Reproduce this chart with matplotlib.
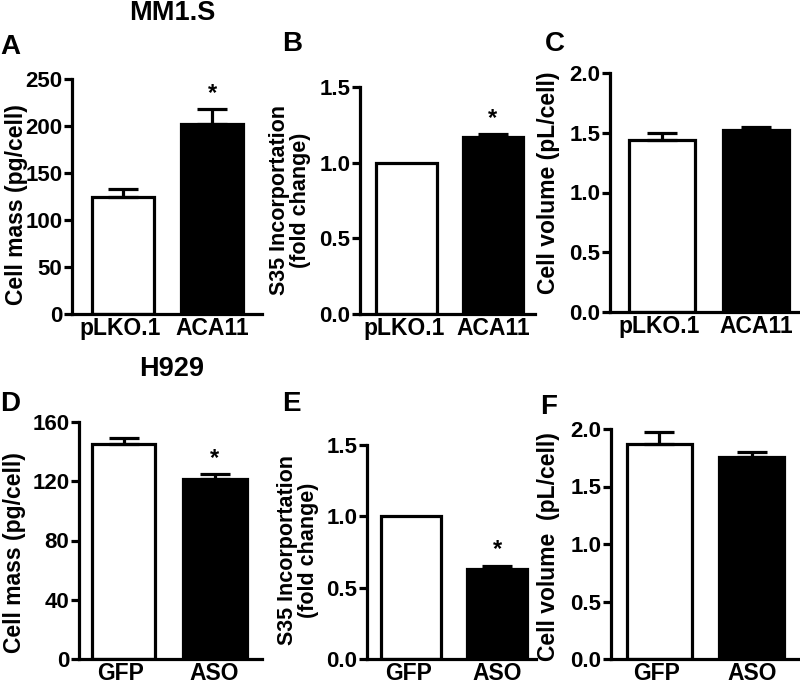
import matplotlib
matplotlib.use("Agg")
import matplotlib.pyplot as plt

plt.rcParams['font.family'] = ['Liberation Sans', 'DejaVu Sans']
plt.rcParams['font.weight'] = 'bold'

# data
groups_mm = ["pLKO.1", "ACA11"]
groups_h929 = ["GFP", "ASO"]

mass_mm = [124, 202]
mass_mm_err = [9, 16]
s35_mm = [1.0, 1.17]
s35_mm_err = [0.0, 0.02]
vol_mm = [1.44, 1.52]
vol_mm_err = [0.06, 0.03]

mass_h929 = [145, 121.5]
mass_h929_err = [4.5, 3.5]
s35_h929 = [1.0, 0.63]
s35_h929_err = [0.0, 0.025]
vol_h929 = [1.87, 1.76]
vol_h929_err = [0.10, 0.04]

# which bars get a star
sig_mm = [[False, True], [False, True], [False, False]]
sig_h929 = [[False, True], [False, True], [False, False]]

W, H = 800, 684
fig = plt.figure(figsize=(W / 100, H / 100), dpi=100)


def px(x, y):
    return x / W, 1 - y / H


def panel(rect, xlim, ymax, yticks, fmt, groups, vals, errs, stars):
    # rect = left px, right px, top px (ymax), zero px
    l, r, t, b = rect
    ax = fig.add_axes([l / W, 1 - b / H, (r - l) / W, (b - t) / H])
    ax.bar([0, 1], vals, width=0.7, color=['white', 'black'],
           edgecolor='black', linewidth=2.3, zorder=2)
    for i in range(2):
        if errs[i] > 0:
            ax.errorbar(i, vals[i], yerr=[[0], [errs[i]]], fmt='none',
                        ecolor='black', elinewidth=2.3, capsize=11,
                        capthick=2.3, clip_on=False, zorder=3)
        if stars[i]:
            ax.annotate('*', xy=(i, vals[i] + errs[i]), xytext=(0, 3),
                        textcoords='offset points', ha='center', va='bottom',
                        fontsize=17, fontweight='bold')
    ax.set_xlim(xlim)
    ax.set_ylim(0, ymax)
    ax.set_yticks(yticks)
    ax.set_yticklabels([fmt.format(v) for v in yticks])
    ax.set_xticks([-0.03, 1])
    ax.set_xticklabels(groups)
    for s in ['top', 'right']:
        ax.spines[s].set_visible(False)
    for s in ['left', 'bottom']:
        ax.spines[s].set_linewidth(2.3)
    ax.tick_params(axis='y', direction='out', length=5.5, width=2.3,
                   labelsize=16, pad=1.5)
    ax.tick_params(axis='x', length=0, labelsize=16.5, pad=2.5)
    for lab in ax.get_xticklabels() + ax.get_yticklabels():
        lab.set_fontweight('bold')
    return ax


panel((72, 262, 79, 314), (-0.57, 1.56), 250, [0, 50, 100, 150, 200, 250], "{:.0f}",
      groups_mm, mass_mm, mass_mm_err, sig_mm[0])
panel((360, 535, 87, 314), (-0.54, 1.49), 1.5, [0, 0.5, 1.0, 1.5], "{:.1f}",
      groups_mm, s35_mm, s35_mm_err, sig_mm[1])
panel((610, 800, 73, 312), (-0.55, 1.47), 2.0, [0, 0.5, 1.0, 1.5, 2.0], "{:.1f}",
      groups_mm, vol_mm, vol_mm_err, sig_mm[2])
panel((79, 262, 422, 659), (-0.49, 1.52), 160, [0, 40, 80, 120, 160], "{:.0f}",
      groups_h929, mass_h929, mass_h929_err, sig_h929[0])
panel((367, 536, 445, 659), (-0.51, 1.45), 1.5, [0, 0.5, 1.0, 1.5], "{:.1f}",
      groups_h929, s35_h929, s35_h929_err, sig_h929[1])
panel((611, 800, 429, 659), (-0.52, 1.52), 2.0, [0, 0.5, 1.0, 1.5, 2.0], "{:.1f}",
      groups_h929, vol_h929, vol_h929_err, sig_h929[2])

# y labels
ylabs = [
    (17, 205, "Cell mass (pg/cell)", 16.5),
    (290, 200, "S35 Incorportation\n(fold change)", 15.5),
    (549, 183, "Cell volume (pL/cell)", 16.5),
    (15, 553, "Cell mass (pg/cell)", 16.5),
    (298, 550, "S35 Incorportation\n(fold change)", 15.5),
    (548, 547, "Cell volume  (pL/cell)", 16.5),
]
for x, y, t, fs in ylabs:
    fig.text(*px(x, y), t, rotation=90, ha='center', va='center',
             fontsize=fs, fontweight='bold', linespacing=1.0)

# panel letters
for x, y, t in [(0, 47, "A"), (282, 44, "B"), (545, 44, "C"),
                (0, 404, "D"), (282, 404, "E"), (540, 407, "F")]:
    fig.text(*px(x, y), t, ha='left', va='center', fontsize=20, fontweight='bold')

fig.text(*px(172, 13), "MM1.S", ha='center', va='center', fontsize=19.5, fontweight='bold')
fig.text(*px(172, 369), "H929", ha='center', va='center', fontsize=19.5, fontweight='bold')

fig.savefig("out.png", dpi=100)
